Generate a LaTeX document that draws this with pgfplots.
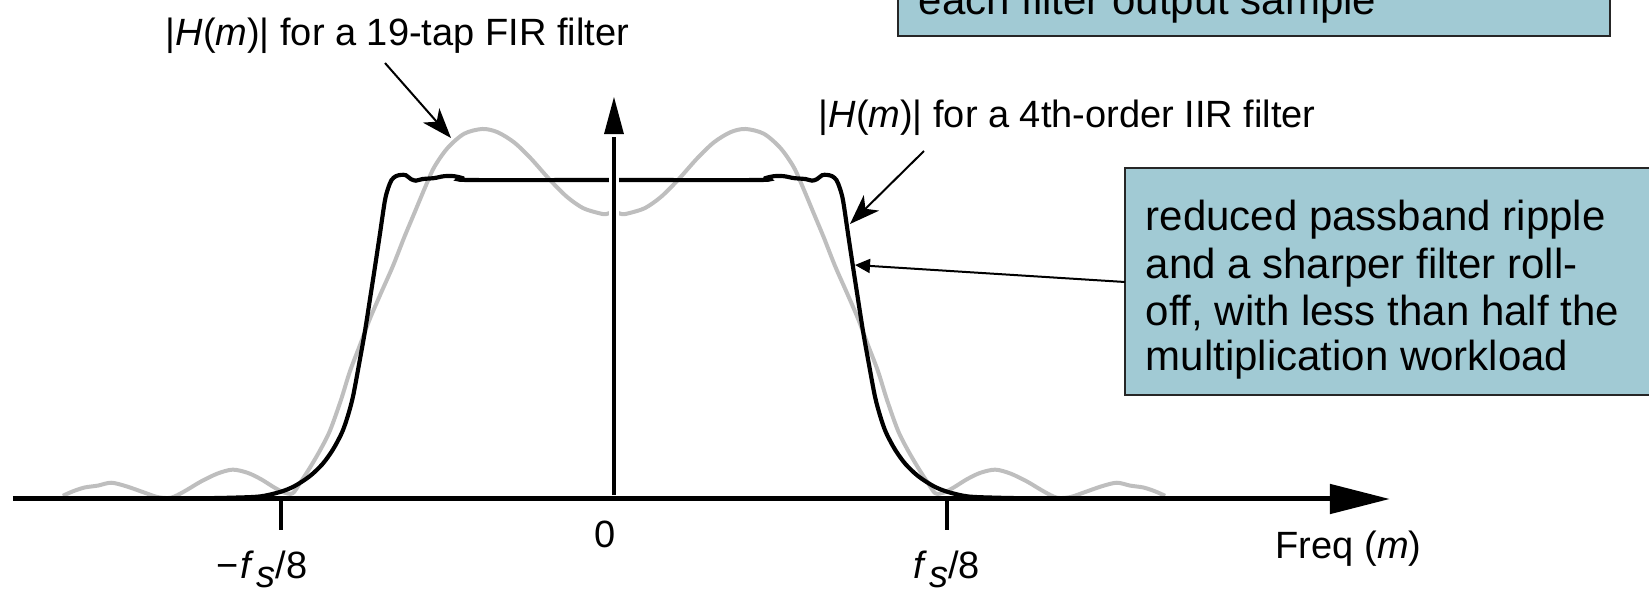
\documentclass[border=0pt]{standalone}
\usepackage{pgfplots}
\pgfplotsset{compat=1.18}
\usepackage{pgfplotstable}
\usepackage{fontspec}
\setmainfont{Liberation Sans}
\usetikzlibrary{arrows.meta}

\definecolor{boxfill}{RGB}{161,202,212}
\definecolor{firgray}{RGB}{190,190,190}

% |H(m)| of the 19-tap FIR filter (frequency in units of fs/8)
\pgfplotstableread{
u h
-1.655 0.010
-1.625 0.024
-1.590 0.036
-1.550 0.042
-1.510 0.051
-1.465 0.040
-1.410 0.020
-1.370 0.006
-1.330 0.004
-1.290 0.024
-1.240 0.055
-1.190 0.080
-1.145 0.092
-1.100 0.082
-1.060 0.062
-1.020 0.036
-0.990 0.020
-0.965 0.018
-0.943 0.050
-0.915 0.095
-0.883 0.152
-0.853 0.214
-0.820 0.310
-0.793 0.400
-0.760 0.490
-0.733 0.565
-0.700 0.645
-0.664 0.730
-0.630 0.820
-0.600 0.895
-0.568 0.975
-0.540 1.040
-0.500 1.100
-0.450 1.145
-0.395 1.160
-0.350 1.150
-0.300 1.118
-0.250 1.068
-0.192 1.000
-0.141 0.947
-0.093 0.912
-0.045 0.896
-0.025 0.893
0.000 0.900
0.025 0.893
0.045 0.896
0.093 0.912
0.141 0.947
0.192 1.000
0.250 1.068
0.300 1.118
0.350 1.150
0.395 1.160
0.450 1.145
0.500 1.100
0.540 1.040
0.568 0.975
0.600 0.895
0.630 0.820
0.664 0.730
0.700 0.645
0.733 0.565
0.760 0.490
0.793 0.400
0.820 0.310
0.853 0.214
0.883 0.152
0.915 0.095
0.943 0.050
0.965 0.018
0.990 0.020
1.020 0.036
1.060 0.062
1.100 0.082
1.145 0.092
1.190 0.080
1.240 0.055
1.290 0.024
1.330 0.004
1.370 0.006
1.410 0.020
1.465 0.040
1.510 0.051
1.550 0.042
1.590 0.036
1.625 0.024
1.655 0.010
}\firtab

% |H(m)| of the 4th-order IIR filter
\pgfplotstableread{
u h
-1.250 0.002
-1.150 0.004
-1.063 0.008
-1.003 0.022
-0.960 0.040
-0.913 0.072
-0.875 0.110
-0.844 0.155
-0.817 0.208
-0.800 0.258
-0.784 0.320
-0.766 0.420
-0.748 0.525
-0.733 0.625
-0.718 0.726
-0.703 0.830
-0.688 0.935
-0.678 0.975
-0.668 1.000
-0.655 1.012
-0.640 1.016
-0.625 1.015
-0.610 1.003
-0.595 0.998
-0.575 1.003
-0.540 1.006
-0.510 1.012
-0.480 1.012
-0.455 1.006
-0.435 1.000
0.000 1.000
0.435 1.000
0.455 1.006
0.480 1.012
0.510 1.012
0.540 1.006
0.575 1.003
0.595 0.998
0.610 1.003
0.625 1.015
0.640 1.016
0.655 1.012
0.668 1.000
0.678 0.975
0.688 0.935
0.703 0.830
0.718 0.726
0.733 0.625
0.748 0.525
0.766 0.420
0.784 0.320
0.800 0.258
0.817 0.208
0.844 0.155
0.875 0.110
0.913 0.072
0.960 0.040
1.003 0.022
1.063 0.008
1.150 0.004
1.250 0.002
}\iirtab

\newcommand\lblfont{\fontsize{11.4pt}{13pt}\selectfont}
\newcommand\boxfont{\fontsize{12.6pt}{14pt}\selectfont}

\begin{document}
\begin{tikzpicture}[x=0.3pt,y=0.3pt]
\useasboundingbox (0,0) rectangle (1649,593);
\begin{axis}[
  at={(0,0)}, anchor=south west,
  scale only axis, width=494.7pt, height=177.9pt,
  xmin=-1.8438, xmax=3.1081, ymin=-0.2947, ymax=1.5643,
  axis lines=none, clip=false]
  \addplot[firgray, line width=1.2pt, smooth, tension=0.5] table[x=u, y=h] {\firtab};
  \addplot[black, line width=1.25pt, smooth, tension=0.5] table[x=u, y=h] {\iirtab};
  % frequency axis
  \draw[line width=1.5pt, -{Triangle[length=18pt, width=8.7pt]}]
    (axis cs:-1.805,0) -- (axis cs:2.330,0);
  % magnitude axis
  \draw[white, line width=3pt] (axis cs:0,0.02) -- (axis cs:0,1.13);
  \draw[line width=1.35pt] (axis cs:0,0.0125) -- (axis cs:0,1.135);
  \fill (axis cs:-0.030,1.144) -- (axis cs:0.030,1.144) -- (axis cs:0,1.260) -- cycle;
  % ticks at -fs/8 and fs/8
  \draw[line width=1.2pt] (axis cs:-1,0) -- (axis cs:-1,-0.097);
  \draw[line width=1.2pt] (axis cs:1,0) -- (axis cs:1,-0.097);
\end{axis}

% tick labels
\node[anchor=base west, inner sep=0, font=\lblfont] at (216,15)
  {−\kern0.05em\textit{f}\kern0.05em\raisebox{-0.26em}{\textit{s}}/8};
\node[anchor=base, inner sep=0, font=\lblfont] at (605,46) {0};
\node[anchor=base west, inner sep=0, font=\lblfont] at (913,15)
  {\textit{f}\kern0.05em\raisebox{-0.26em}{\textit{s}}/8};
\node[anchor=base west, inner sep=0, font=\lblfont] at (1275,35) {Freq (\textit{m})};

% curve labels
\node[anchor=base west, inner sep=0, font=\lblfont] at (165,548)
  {|\textit{H}(\textit{m})| for a 19-tap FIR filter};
\draw[line width=0.6pt, -{Stealth[length=9pt, width=6.5pt, inset=2.5pt]}]
  (385,530) -- (451,455);
\node[anchor=base west, inner sep=0, font=\lblfont] at (818,466)
  {|\textit{H}(\textit{m})| for a 4th-order IIR filter};
\draw[line width=0.6pt, -{Stealth[length=9pt, width=6.5pt, inset=2.5pt]}]
  (924,442) -- (850,369);

% call-out boxes
\draw[fill=boxfill, draw=black!85, line width=0.7pt] (898,557) rectangle (1610,660);
\node[anchor=base west, inner sep=0, font=\boxfont] at (918,579) {each filter output sample};

\draw[fill=boxfill, draw=black!85, line width=0.7pt] (1125,198) rectangle (1680,425);
\draw[line width=0.6pt, -{Triangle[length=4.5pt, width=4.2pt]}] (1125,311) -- (855,328);
\node[anchor=base west, inner sep=0, font=\boxfont] at (1145,363) {reduced passband ripple};
\node[anchor=base west, inner sep=0, font=\boxfont] at (1145,315) {and a sharper filter roll-};
\node[anchor=base west, inner sep=0, font=\boxfont] at (1145,268) {off, with less than half the};
\node[anchor=base west, inner sep=0, font=\boxfont] at (1145,223) {multiplication workload};
\end{tikzpicture}
\end{document}
